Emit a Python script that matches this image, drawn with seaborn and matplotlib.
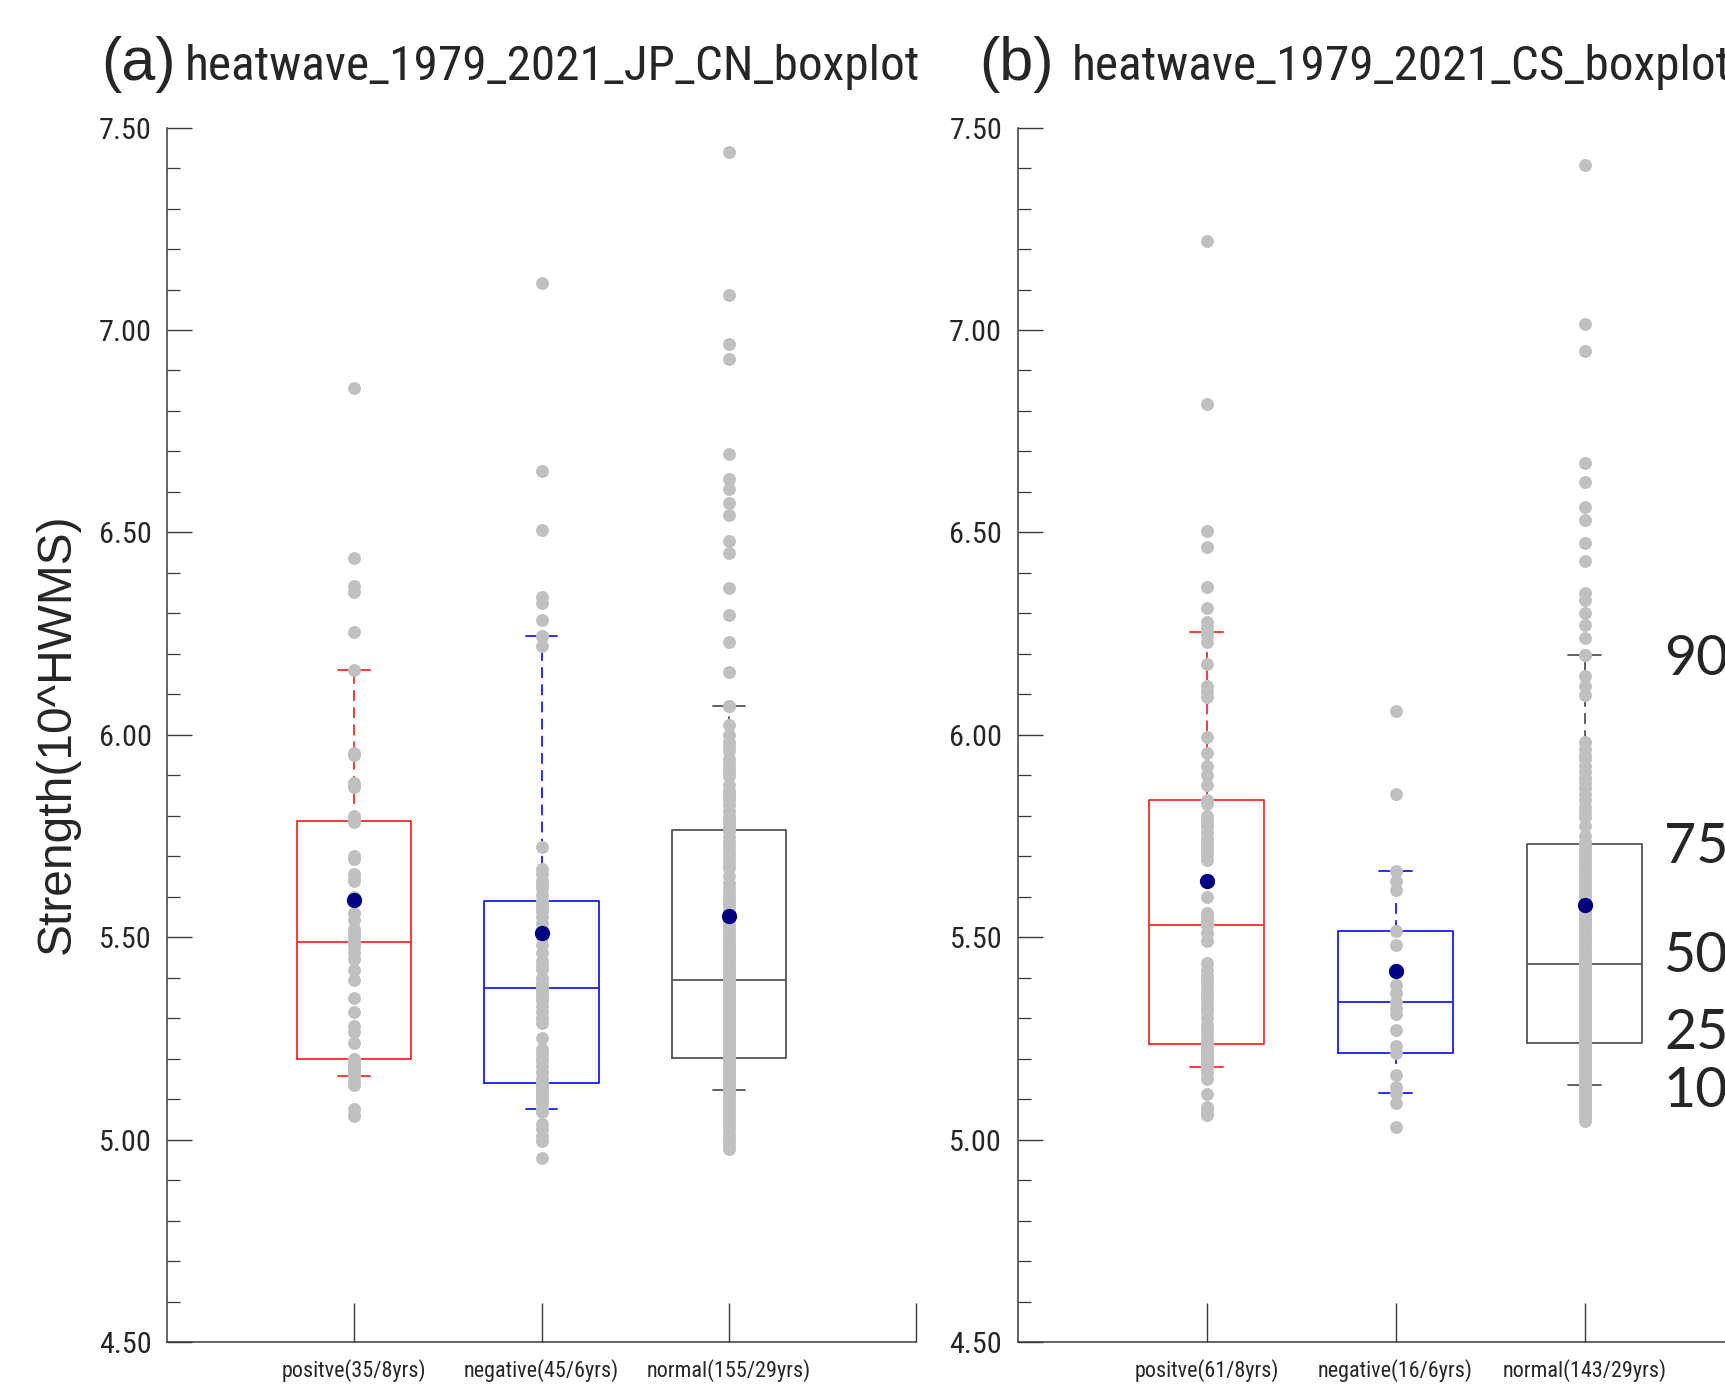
import numpy as np
import pandas as pd
import matplotlib
matplotlib.use("Agg")
import matplotlib.pyplot as plt
import seaborn as sns
from matplotlib import font_manager
from matplotlib.ticker import MultipleLocator

sns.set_style("ticks")
plt.rcParams["font.family"] = ["Liberation Sans", "DejaVu Sans"]


def pick_narrow():
    entries = font_manager.fontManager.ttflist
    names = {e.name for e in entries}
    prefer = [("Liberation Sans Narrow", 1.0), ("Arial Narrow", 1.0),
              ("Roboto Condensed", 0.97), ("Open Sans Condensed", 0.95),
              ("Noto Sans Condensed", 0.93), ("DejaVu Sans Condensed", 0.9)]
    for p, sc in prefer:
        if p in names:
            return {"fontfamily": [p, "DejaVu Sans"]}, sc
    for fam, sc in [("Roboto", 0.97), ("Noto Sans", 0.93), ("Open Sans", 0.93),
                    ("DejaVu Sans", 0.9), ("Lato", 1.0)]:
        for e in entries:
            if e.name == fam and str(e.stretch) in ("condensed", "semi-condensed",
                                                     "extra-condensed") \
                    and e.style == "normal":
                return {"fontfamily": [fam, "DejaVu Sans"],
                        "fontstretch": "condensed"}, sc
    return {"fontfamily": ["Liberation Sans", "DejaVu Sans"]}, 0.84


NARROW_KW, NSCALE = pick_narrow()

# ---------------- data ----------------
titles = ["heatwave_1979_2021_JP_CN_boxplot", "heatwave_1979_2021_CS_boxplot"]
panel_tags = ["(a)", "(b)"]
categories_a = ["positve(35/8yrs)", "negative(45/6yrs)", "normal(155/29yrs)"]
categories_b = ["positve(61/8yrs)", "negative(16/6yrs)", "normal(143/29yrs)"]
ylabel = "Strength(10^HWMS)"
yticks = [4.5, 5.0, 5.5, 6.0, 6.5, 7.0, 7.5]
percent_labels = ["90%", "75%", "50%", "25%", "10%"]

a_positive = [5.058, 5.062, 5.075, 5.136, 5.145, 5.158, 5.165, 5.171, 5.178, 5.185,
              5.188, 5.192, 5.196, 5.200, 5.238, 5.266, 5.280, 5.316, 5.351, 5.394,
              5.420, 5.446, 5.460, 5.475, 5.486, 5.489, 5.500, 5.510, 5.521, 5.543,
              5.560, 5.600, 5.639, 5.645, 5.656, 5.694, 5.700, 5.785, 5.791, 5.800,
              5.870, 5.876, 5.880, 5.950, 5.955, 6.160, 6.255, 6.354, 6.367, 6.437,
              6.856]
a_negative = [4.954, 4.997, 5.010, 5.025, 5.039, 5.068, 5.076, 5.076,
              5.090, 5.096, 5.104, 5.110, 5.118, 5.125, 5.132, 5.138, 5.141,
              5.153, 5.167, 5.181, 5.195, 5.202, 5.215, 5.224, 5.250, 5.288, 5.300,
              5.316, 5.330, 5.344, 5.355, 5.365, 5.375,
              5.380, 5.387, 5.400, 5.422, 5.429, 5.440, 5.460, 5.480, 5.500, 5.520,
              5.536, 5.550, 5.565, 5.575, 5.585, 5.590,
              5.605, 5.621, 5.628, 5.640, 5.656, 5.668, 5.723, 6.219, 6.245, 6.245,
              6.284, 6.325, 6.340, 6.505, 6.652, 7.117]
a_normal = [4.976, 4.985, 4.995, 5.005, 5.015, 5.025, 5.035, 5.045, 5.055, 5.065,
            5.075, 5.085, 5.095, 5.105, 5.113, 5.122, 5.122,
            5.128, 5.132, 5.136, 5.140, 5.144, 5.148, 5.152, 5.156, 5.160, 5.164,
            5.168, 5.172, 5.176, 5.180, 5.184, 5.188, 5.191, 5.193, 5.195, 5.196,
            5.198, 5.199, 5.203,
            5.207, 5.213, 5.217, 5.222, 5.228, 5.232, 5.236, 5.243, 5.247, 5.251,
            5.258, 5.262, 5.266, 5.273, 5.277, 5.281, 5.288, 5.292, 5.296, 5.303,
            5.307, 5.311, 5.318, 5.322, 5.326, 5.333, 5.337, 5.341, 5.348, 5.352,
            5.356, 5.363, 5.367, 5.371, 5.378, 5.384, 5.390, 5.394,
            5.400, 5.405, 5.410, 5.418, 5.425, 5.432, 5.440, 5.448, 5.455, 5.462,
            5.470, 5.478, 5.486, 5.495, 5.503, 5.512, 5.520, 5.530, 5.540, 5.550,
            5.560, 5.570, 5.580, 5.590, 5.599, 5.610, 5.621, 5.635, 5.650, 5.670,
            5.680, 5.692, 5.703, 5.713, 5.725, 5.734, 5.748, 5.762, 5.770,
            5.777, 5.785, 5.791, 5.800, 5.812, 5.826, 5.838, 5.848, 5.855, 5.862,
            5.875, 5.897, 5.908, 5.918, 5.930, 5.940, 5.961, 5.972, 5.982, 6.000,
            6.025, 6.071, 6.071,
            6.155, 6.230, 6.297, 6.362, 6.450, 6.479, 6.542, 6.573, 6.606, 6.631,
            6.693, 6.928, 6.965, 7.087, 7.440]

b_positive = [5.060, 5.066, 5.075, 5.081, 5.113, 5.150, 5.165, 5.176, 5.179,
              5.183, 5.188, 5.192, 5.197, 5.203, 5.207, 5.212, 5.218, 5.223, 5.228,
              5.232, 5.236,
              5.247, 5.258, 5.270, 5.282, 5.300, 5.315, 5.326, 5.338, 5.349, 5.357,
              5.365, 5.377, 5.389, 5.396, 5.404, 5.420, 5.436, 5.491, 5.510, 5.530,
              5.538, 5.545, 5.554, 5.560, 5.600, 5.640, 5.690, 5.704, 5.712, 5.720,
              5.728, 5.735, 5.745, 5.760, 5.775, 5.782, 5.790, 5.800, 5.830, 5.840,
              5.877, 5.900, 5.924, 5.956, 5.995, 6.093, 6.109, 6.120, 6.176, 6.230,
              6.245, 6.255,
              6.266, 6.279, 6.313, 6.364, 6.465, 6.504, 6.818, 7.219]
b_negative = [5.031, 5.090, 5.114, 5.130, 5.160, 5.215, 5.230, 5.270, 5.310, 5.325,
              5.340, 5.362, 5.381, 5.420, 5.480, 5.516, 5.617, 5.640, 5.663, 5.853,
              6.058]
b_normal = [5.045, 5.052, 5.060, 5.068, 5.075, 5.082, 5.090, 5.097, 5.104, 5.110,
            5.116, 5.122, 5.128, 5.132, 5.136, 5.136,
            5.145, 5.150, 5.155, 5.160, 5.165, 5.170, 5.175, 5.180, 5.185, 5.190,
            5.195, 5.200, 5.205, 5.210, 5.215, 5.220, 5.225, 5.229, 5.233,
            5.236, 5.242,
            5.247, 5.252, 5.258, 5.263, 5.268, 5.274, 5.279, 5.284, 5.290, 5.295,
            5.300, 5.306, 5.311, 5.316, 5.322, 5.327, 5.332, 5.338, 5.343, 5.348,
            5.354, 5.359, 5.364, 5.370, 5.375, 5.380, 5.386, 5.391, 5.396, 5.402,
            5.408, 5.415, 5.422, 5.429, 5.435,
            5.442, 5.450, 5.458, 5.466, 5.474, 5.482, 5.490, 5.498, 5.506, 5.514,
            5.522, 5.530, 5.538, 5.546, 5.554, 5.562, 5.570, 5.578, 5.586, 5.594,
            5.602, 5.610, 5.619, 5.628, 5.637, 5.646, 5.655, 5.664, 5.673, 5.682,
            5.691, 5.700, 5.710, 5.720, 5.728, 5.734,
            5.751, 5.775, 5.798, 5.810, 5.822, 5.838, 5.854, 5.869, 5.880, 5.893,
            5.909, 5.924, 5.940, 5.950, 5.965, 5.983, 6.098, 6.120, 6.145,
            6.196, 6.196,
            6.239, 6.271, 6.302, 6.334, 6.350, 6.429, 6.473, 6.531, 6.562, 6.624,
            6.671, 6.948, 7.015, 7.407]

means_a = [5.592, 5.511, 5.552]
means_b = [5.639, 5.416, 5.579]
# y positions of the percentile legend labels on the right of panel (b)
percent_label_y = [6.185, 5.722, 5.452, 5.262, 5.118]

# ---------------- style ----------------
W, H = 1725, 1384
box_colors = ["#FF2A2A", "#1A1AFF", "#555555"]
dot_color = "#C0C0C0"
mean_color = "#000080"
axis_color = "#3a3a3a"

fig = plt.figure(figsize=(W / 100, H / 100), dpi=100)
bottom = 1 - 1342 / H
height = (1342 - 127.6) / H
ax_a = fig.add_axes([167 / W, bottom, 749 / W, height])
ax_b = fig.add_axes([1017.5 / W, bottom, 756 / W, height])


def draw_panel(ax, cats, series, means):
    df = pd.DataFrame({
        "cat": np.repeat(cats, [len(s) for s in series]),
        "val": np.concatenate([np.asarray(s, float) for s in series]),
    })
    pal = dict(zip(cats, box_colors))
    sns.boxplot(data=df, x="cat", y="val", order=cats, hue="cat", hue_order=cats,
                palette=pal, fill=False, width=0.61, whis=(10, 90),
                showfliers=False, linewidth=1.3, legend=False, ax=ax,
                whiskerprops={"linestyle": (0, (6, 3.5))})
    # short caps
    for ln in ax.lines:
        x = np.asarray(ln.get_xdata(), float)
        y = np.asarray(ln.get_ydata(), float)
        if len(x) == 2 and y[0] == y[1] and 0 < abs(x[1] - x[0]) < 0.5:
            c = x.mean()
            ln.set_xdata([c - 0.085, c + 0.085])
    sns.stripplot(data=df, x="cat", y="val", order=cats, color=dot_color,
                  jitter=False, size=9.3, linewidth=0, ax=ax, zorder=3)
    mdf = pd.DataFrame({"cat": cats, "mean": means})
    sns.stripplot(data=mdf, x="cat", y="mean", order=cats, color=mean_color,
                  jitter=False, size=11, linewidth=0, ax=ax, zorder=4)

    ax.set_xlim(-1, 3)
    ax.set_ylim(4.5, 7.5)
    ax.set_xlabel("")
    ax.set_ylabel("")
    ax.set_xticks([0, 1, 2, 3])
    ax.set_xticklabels(list(cats) + [""], fontsize=15.9, **NARROW_KW)
    ax.set_yticks(yticks)
    ax.set_yticklabels(["%.2f" % v for v in yticks], fontsize=22.5 * NSCALE,
                       **NARROW_KW)
    ax.yaxis.set_minor_locator(MultipleLocator(0.1))
    ax.tick_params(axis="y", which="major", direction="in", length=18, width=1.0,
                   color=axis_color, pad=11, left=True)
    ax.tick_params(axis="y", which="minor", direction="in", length=9, width=0.9,
                   color=axis_color, left=True)
    ax.tick_params(axis="x", which="major", direction="in", length=28, width=1.0,
                   color=axis_color, pad=12, bottom=True)
    ax.tick_params(axis="x", which="minor", bottom=False)
    for s in ["top", "right"]:
        ax.spines[s].set_visible(False)
    for s in ["left", "bottom"]:
        ax.spines[s].set_color(axis_color)
        ax.spines[s].set_linewidth(1.1)
    ax.set_facecolor("none")


draw_panel(ax_a, categories_a, [a_positive, a_negative, a_normal], means_a)
draw_panel(ax_b, categories_b, [b_positive, b_negative, b_normal], means_b)

# titles
base_y = 1 - 80 / H
fig.text(101 / W, base_y, panel_tags[0], fontsize=44, va="baseline", ha="left",
         fontfamily=["Liberation Sans", "DejaVu Sans"])
fig.text(185 / W, base_y, titles[0], fontsize=35.6, va="baseline",
         ha="left", **NARROW_KW)
fig.text(979 / W, base_y, panel_tags[1], fontsize=44, va="baseline", ha="left",
         fontfamily=["Liberation Sans", "DejaVu Sans"])
fig.text(1072 / W, base_y, titles[1], fontsize=35.6, va="baseline",
         ha="left", **NARROW_KW)

# y label
fig.text(57 / W, 1 - 734 / H, ylabel, rotation=90, fontsize=34.5, ha="center",
         va="center", fontfamily=["Liberation Sans", "DejaVu Sans"])

# percentile legend labels (cut by the right figure edge, as in the original)
for lab, yv in zip(percent_labels, percent_label_y):
    ax_b.text(2.42, yv, lab, fontsize=40, ha="left", va="center",
              fontfamily=["Lato", "DejaVu Sans"], clip_on=False)

fig.savefig("out.png", dpi=100)
